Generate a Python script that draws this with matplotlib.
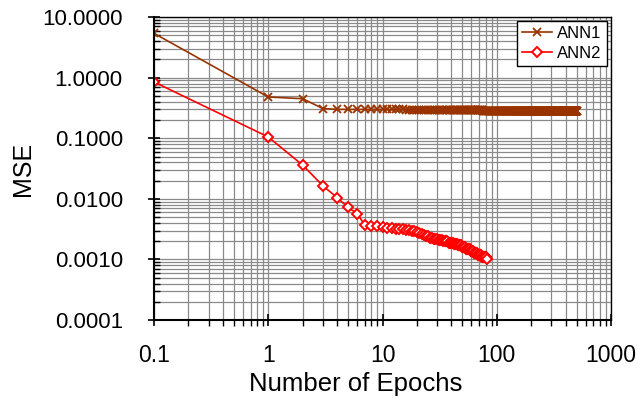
import numpy as np
import matplotlib.pyplot as plt
from matplotlib.ticker import LogLocator, FixedLocator, FixedFormatter, NullFormatter

plt.rcParams['font.family'] = ['Liberation Sans', 'DejaVu Sans']

# ANN1: first epochs read one by one, then a long flat tail (read as levels)
ann1_epochs_head = [0.1, 1, 2, 3]
ann1_mse_head = [5.4, 0.48, 0.45, 0.31]
ann1_tail_levels = [0.30, 0.29, 0.285, 0.28]
ann1_tail_counts = [12, 60, 180, 245]

# ANN2: epoch 0.1, then epochs 1..82
ann2_epochs = [0.1] + list(range(1, 83))
ann2_mse = [0.85,
            0.105, 0.036, 0.0165, 0.0105, 0.0072, 0.0057, 0.0037, 0.0036, 0.0035, 0.0034,
            0.0033, 0.0033, 0.0032, 0.0032, 0.0032, 0.0031, 0.0031, 0.0030, 0.0029, 0.0028,
            0.0027, 0.0026, 0.0025, 0.0024, 0.0024, 0.0023, 0.0023, 0.0022, 0.0022, 0.0022,
            0.0021, 0.0021, 0.0021, 0.0020, 0.0020, 0.0020, 0.0020, 0.0019, 0.0019, 0.0019,
            0.0019, 0.0018, 0.0018, 0.0018, 0.0018, 0.0017, 0.0017, 0.0017, 0.0017, 0.0016,
            0.0016, 0.0016, 0.0016, 0.0015, 0.0015, 0.0015, 0.0015, 0.0015, 0.0014, 0.0014,
            0.0014, 0.0014, 0.0013, 0.0013, 0.0013, 0.0013, 0.0013, 0.0012, 0.0012, 0.0012,
            0.0012, 0.0012, 0.0012, 0.0011, 0.0011, 0.0011, 0.0011, 0.0011, 0.0011, 0.0011,
            0.0011, 0.0010]

x_ticks = [0.1, 1, 10, 100, 1000]
x_labels = ['0.1', '1', '10', '100', '1000']
y_ticks = [0.0001, 0.001, 0.01, 0.1, 1, 10]

ann1_epochs = ann1_epochs_head + list(range(4, 4 + sum(ann1_tail_counts)))
ann1_mse = ann1_mse_head + list(np.repeat(ann1_tail_levels, ann1_tail_counts))

fig = plt.figure(figsize=(6.38, 3.98), dpi=100)
ax = fig.add_axes([0.2414, 0.196, 0.7163, 0.761])

ax.set_xscale('log')
ax.set_yscale('log')
ax.set_xlim(0.1, 1000)
ax.set_ylim(0.0001, 10)

ax.grid(True, which='major', color='#8a8a8a', lw=0.9)
ax.grid(True, which='minor', color='#8a8a8a', lw=0.9)
ax.set_axisbelow(True)

ax.plot(ann1_epochs, ann1_mse, color='#993300', lw=1.2, marker='x',
        markersize=5.5, markeredgewidth=1.3, label='ANN1')
ax.plot(ann2_epochs, ann2_mse, color='#ff0000', lw=1.2, marker='D',
        markersize=5.5, markerfacecolor='white', markeredgewidth=1.4, label='ANN2')

ax.xaxis.set_major_locator(FixedLocator(x_ticks))
ax.xaxis.set_major_formatter(FixedFormatter(x_labels))
ax.xaxis.set_minor_locator(LogLocator(base=10, subs=np.arange(2, 10)))
ax.xaxis.set_minor_formatter(NullFormatter())
ax.yaxis.set_major_locator(FixedLocator(y_ticks))
ax.yaxis.set_major_formatter(plt.FuncFormatter(lambda v, p: f'{v:.4f}'))
ax.yaxis.set_minor_locator(LogLocator(base=10, subs=np.arange(2, 10)))
ax.yaxis.set_minor_formatter(NullFormatter())

ax.tick_params(axis='both', which='major', direction='inout', length=8, width=1.2,
               color='black')
ax.tick_params(axis='x', which='minor', direction='out', length=4, width=1.0)
ax.tick_params(axis='y', which='minor', direction='in', length=4, width=1.0)
ax.tick_params(axis='x', which='major', pad=13, labelsize=16.5)
ax.tick_params(axis='y', which='major', pad=18.5, labelsize=16)

for side in ['left', 'bottom']:
    ax.spines[side].set_linewidth(1.5)
for side in ['top', 'right']:
    ax.spines[side].set_linewidth(1.0)

ax.set_xlabel('Number of Epochs', fontsize=18.5, labelpad=4)
ax.xaxis.label.set_x(0.442)
ax.set_ylabel('MSE', fontsize=18, labelpad=5)

leg = ax.legend(loc='upper right', fontsize=12, frameon=True, fancybox=False,
                framealpha=1, edgecolor='black', borderaxespad=0.25,
                handlelength=1.8, handletextpad=0.3, borderpad=0.3, labelspacing=0.3)
leg.get_frame().set_linewidth(1.0)

fig.savefig('out.png', dpi=100)
